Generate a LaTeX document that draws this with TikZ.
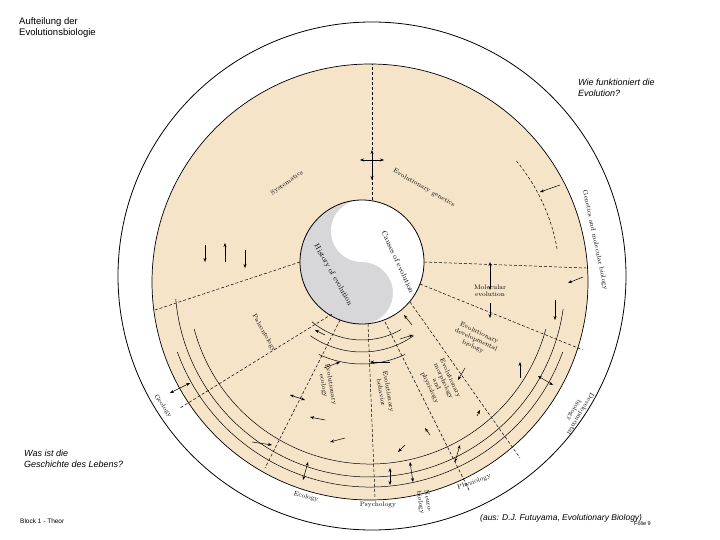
\documentclass[tikz,border=0pt]{standalone}
\usepackage{fontspec}
\newfontfamily\arial{Liberation Sans}
\usetikzlibrary{arrows.meta}
\definecolor{beige}{RGB}{246,228,200}
\definecolor{yingrey}{RGB}{215,215,218}
\begin{document}
\begin{tikzpicture}[x=1pt,y=-1pt,
  lab/.style={font=\fontsize{6.5}{7.5}\selectfont,align=center,inner sep=1pt},
  dl/.style={densely dashed,line width=0.5pt},
  ar/.style={-{Stealth[length=4pt]},line width=0.5pt},
  dar/.style={{Stealth[length=4pt]}-{Stealth[length=4pt]},line width=0.5pt},
  captxt/.style={font=\arial\fontsize{9.5}{11}\selectfont,align=left,anchor=north west,inner sep=0pt}]
\useasboundingbox (0,0) rectangle (720,540);
\fill[white] (0,0) rectangle (720,540);
% circles
\coordinate (O) at (372,276);
\coordinate (B) at (370,282);
\coordinate (C) at (362,262);
\draw[line width=0.8pt] (O) circle (254);
\fill[beige] (B) circle (218);
\draw[line width=0.7pt] (B) circle (218);
% yin-yang
\fill[yingrey] (C) circle (62);
\fill[white] (362,200) arc (-90:90:62) arc (90:-90:31) arc (90:270:31) -- cycle;
\draw[line width=0.8pt] (C) circle (62);
% radial dashed lines
\draw[dl] (372,200) -- (372,64);
\draw[dl] (300,262) -- (155,310);
\draw[dl] (424,262) -- (586,268);
\draw[dl] (420,284) -- (583,350);
\draw[dl] (410,302) -- (520,458);
\draw[dl] (385,322) -- (470,492);
\draw[dl] (368,324) -- (375,498);
\draw[dl] (340,320) -- (265,468);
\draw[dl] (332,314) -- (180,408);
% big arcs
\draw[line width=0.5pt] (B) ++(175:195) arc (175:8:195);
\draw[line width=0.5pt] (B) ++(165:182) arc (165:15:182);
\draw[line width=0.5pt] (B) ++(20:205) arc (20:160:205);
\draw[dl] (B) ++(-10:190) arc (-10:-40:190);
% small arcs around core
\draw[line width=0.5pt] (C) ++(60:78) arc (60:130:78);
\draw[line width=0.5pt] (C) ++(55:90) arc (55:125:90);
\draw[line width=0.5pt] (C) ++(65:102) arc (65:115:102);
% arrows
\draw[dar] (360,160) -- (384,160);
\draw[dar] (372,150) -- (372,180);
\draw[ar] (205,245) -- (205,262);
\draw[ar] (225,262) -- (225,243);
\draw[ar] (245,250) -- (245,268);
\draw[dar] (490,262) -- (490,290);
\draw[ar] (490,303) -- (490,318);
\draw[ar] (560,185) -- (540,192);
\draw[ar] (583,277) -- (568,283);
\draw[ar] (555,300) -- (555,320);
\draw[dar] (538,376) -- (553,385);
\draw[ar] (520,378) -- (520,362);
\draw[ar] (465,368) -- (458,380);
\draw[dar] (170,393) -- (190,383);
\draw[dar] (303,480) -- (308,462);
\draw[dar] (390,485) -- (390,468);
\draw[dar] (413,482) -- (410,462);
\draw[dar] (455,462) -- (460,445);
\draw[ar] (324,368) -- (340,362);
\draw[ar] (390,362) -- (370,362);
\draw[dar] (290,395) -- (305,400);
\draw[ar] (325,420) -- (310,417);
\draw[ar] (252,442) -- (272,445);
\draw[ar] (345,438) -- (330,442);
\draw[ar] (405,445) -- (398,452);
\draw[ar] (430,435) -- (425,428);
\draw[ar] (477,416) -- (480,410);
\draw[ar] (400,339) -- (413,335);
\draw[ar] (325,335) -- (315,330);
\draw[ar] (412,325) -- (404,315);
% labels
\node[lab,rotate=35] (sys) at (287,183) {Systematics};
\node[lab,rotate=-30] (evg) at (424,188) {Evolutionary genetics};
\node[lab,rotate=-78] (gmb) at (595,240) {Genetics and molecular biology};
\node[lab] (mol) at (490,291) {Molecular\\evolution};
\node[lab,rotate=-25] (edb) at (476,340) {Evolutionary\\developmental\\biology};
\node[lab,rotate=-60] (pal) at (264,333) {Paleontology};
\node[lab,rotate=-80] (eec) at (327,385) {Evolutionary\\ecology};
\node[lab,rotate=-80] (ebe) at (385,392) {Evolutionary\\behavior};
\node[lab,rotate=-65] (emp) at (440,383) {Evolutionary\\morphology\\and\\physiology};
\node[lab,rotate=-120] (dev) at (577,412) {Developmental\\biology};
\node[lab,rotate=-55] (geo) at (163,406) {Geology};
\node[lab,rotate=-15] (eco) at (306,497) {Ecology};
\node[lab] (psy) at (378,505) {Psychology};
\node[lab,rotate=-80] (neu) at (424,502) {Neuro-\\biology};
\node[lab,rotate=20] (phy) at (474,482) {Physiology};
\node[lab,rotate=-60,font=\fontsize{7.5}{8}\selectfont] (his) at (333,275) {History of evolution};
\node[lab,rotate=-65,font=\fontsize{7.5}{8}\selectfont] (cau) at (398,262) {Causes of evolution};
% captions
\node[captxt] (t1) at (19,17) {Aufteilung der\\Evolutionsbiologie};
\node[captxt,font=\arial\itshape\fontsize{9}{11}\selectfont] (t2) at (578,79) {Wie funktioniert die\\Evolution?};
\node[captxt,font=\arial\itshape\fontsize{9}{11}\selectfont] (t3) at (24,450) {Was ist die\\Geschichte des Lebens?};
\node[captxt,font=\arial\fontsize{6.5}{8}\selectfont] (t4) at (20,519) {Block 1 - Theor};
\node[captxt,font=\arial\itshape\fontsize{8.5}{10}\selectfont] (t5) at (480,514) {(aus: D.J. Futuyama, Evolutionary Biology)};
\node[captxt,font=\arial\fontsize{5.5}{6}\selectfont] (t6) at (634,521) {Folie 9};
\end{tikzpicture}
\end{document}
